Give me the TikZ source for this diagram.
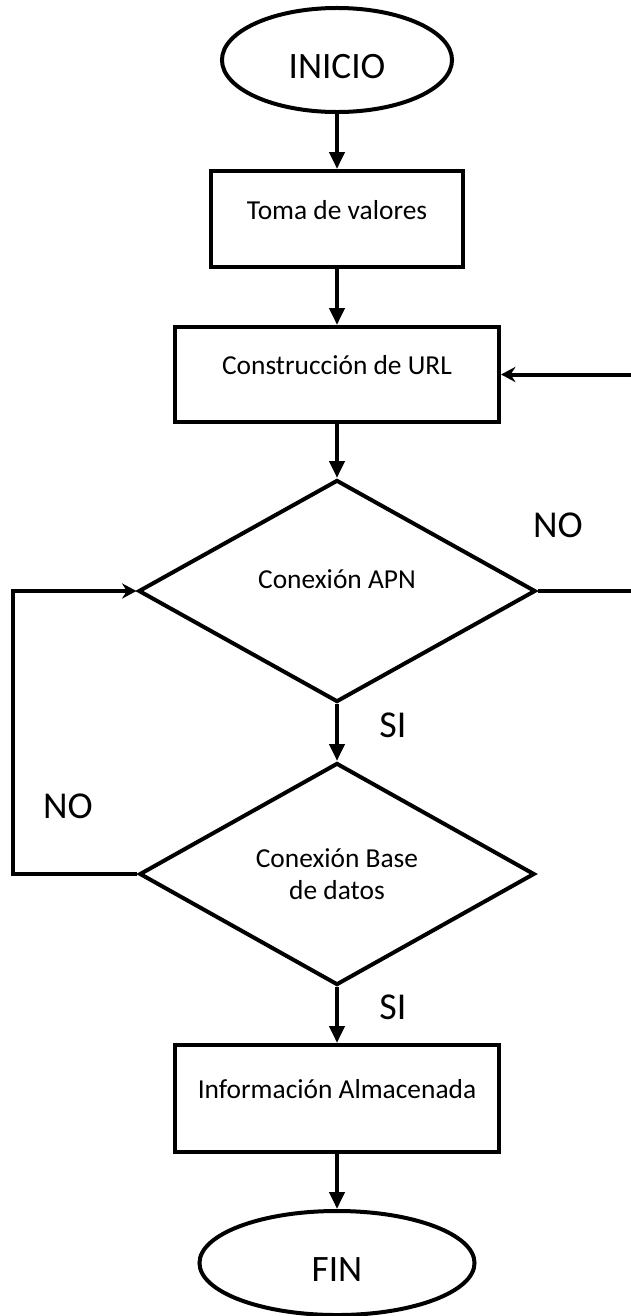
\documentclass[tikz,border=0pt]{standalone}
\usepackage{fontspec}
\setmainfont{Carlito}
\usetikzlibrary{shapes, arrows.meta, positioning}

\tikzset{
  flowline/.style={line width=0.1cm},
  terminal/.style={ellipse, draw, flowline, inner sep=0pt, text height=0.9cm, text depth=0pt, font=\fontsize{26.5}{31}\selectfont},
  procbox/.style={rectangle, draw, flowline, inner sep=0pt, text height=0.4cm, text depth=0.4cm, font=\fontsize{19.5}{23}\selectfont},
  decision/.style={diamond, aspect=1.8, draw, flowline, inner sep=0pt, align=center, font=\fontsize{19.5}{22.8}\selectfont},
  answer/.style={font=\fontsize{27}{32}\selectfont},
  mainarrow/.style={flowline, -{Triangle[length=0.42cm, width=0.37cm]}},
  looparrow/.style={flowline, -{Stealth[length=0.36cm, width=0.38cm, inset=0.12cm]}}
}

\begin{document}
\begin{tikzpicture}[x=0.025cm, y=-0.025cm]
  \useasboundingbox (0,0) rectangle (631,1316);
  \clip (0,0) rectangle (631,1316);

  % flow nodes
  \node[terminal, minimum width=5.75cm, minimum height=2.6cm] (inicio) at (337,60) {INICIO};
  \node[procbox, minimum width=6.3cm, minimum height=2.4cm] (toma) at (337,219) {Toma de valores};
  \node[procbox, minimum width=8.1cm, minimum height=2.375cm] (url) at (337,374.5) {Construcción de URL};
  \node[decision, minimum width=9.925cm, minimum height=5.55cm, text height=0.35cm, text depth=0.5cm] (apn) at (337,591) {Conexión APN};
  \node[decision, minimum width=9.875cm, minimum height=5.55cm] (db) at (337,874) {Conexión Base\\de datos};
  \node[procbox, minimum width=8.075cm, minimum height=2.675cm] (info) at (337,1098.5) {Información Almacenada};
  \node[terminal, minimum width=6.875cm, minimum height=2.6cm] (fin) at (337,1263) {FIN};

  % answers
  \node[answer] (apnno) at (558,525) {NO};
  \node[answer] (apnsi) at (393,725) {SI};
  \node[answer] (dbno) at (68,806) {NO};
  \node[answer] (dbsi) at (393,1007) {SI};

  \coordinate (loopleft) at (13,0);
  \coordinate (loopright) at (660,0);

  % connectors
  \draw[mainarrow] (inicio) -- (toma);
  \draw[mainarrow] (toma) -- (url);
  \draw[mainarrow] (url) -- (apn);
  \draw[mainarrow] (apn) -- (db);
  \draw[mainarrow] (db) -- (info);
  \draw[mainarrow] (info) -- (fin);
  \draw[looparrow] (apn.east) -- (apn.east -| loopright) |- (url.east);
  \draw[looparrow] (db.west) -- (db.west -| loopleft) |- (apn.west);
\end{tikzpicture}
\end{document}
